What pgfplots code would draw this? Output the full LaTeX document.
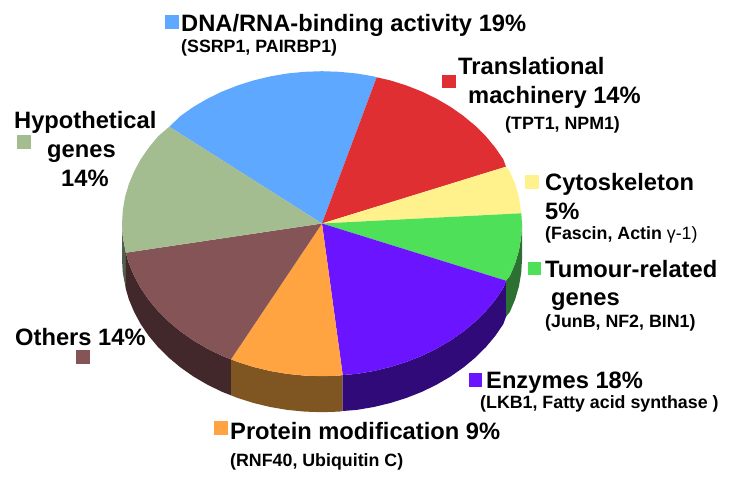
\documentclass[border=0pt]{standalone}
\usepackage{fontspec}
\setmainfont{Liberation Sans}
\usepackage{pgfplots}
\pgfplotsset{compat=1.18}
\definecolor{cblue}{HTML}{5FA8FF}
\definecolor{cred}{HTML}{E02F33}
\definecolor{cyel}{HTML}{FFF28C}
\definecolor{cgrn}{HTML}{4EE058}
\definecolor{cpur}{HTML}{6A14FF}
\definecolor{cora}{HTML}{FFA441}
\definecolor{cbrn}{HTML}{855457}
\definecolor{csag}{HTML}{A3BC90}
\definecolor{dgrn}{HTML}{2C7132}
\definecolor{dpur}{HTML}{300A78}
\definecolor{dora}{HTML}{7F5521}
\definecolor{dbrn}{HTML}{42272B}
\definecolor{dsag}{HTML}{50604A}
\newcommand{\lab}[3]{\node[anchor=base west,inner sep=0pt,font=\fontsize{23.7}{28}\selectfont\bfseries] at (axis cs:#1,#2) {#3};}
\newcommand{\sublab}[3]{\node[anchor=base west,inner sep=0pt,font=\fontsize{17.8}{20}\selectfont\bfseries] at (axis cs:#1,#2) {#3};}
\pgfplotsset{sq/.style={only marks,mark=square*,mark size=6.3pt,mark options={draw=#1,fill=#1,line width=0pt}}}
\begin{document}
\begin{tikzpicture}
\path[use as bounding box] (0,0) rectangle (729pt,493pt);
\begin{axis}[
  at={(0,0)},anchor=south west,
  width=729pt,height=493pt,scale only axis,
  xmin=0,xmax=729,ymin=0,ymax=493,y dir=reverse,
  axis lines=none,clip=false,
]
% side walls
\addplot[draw=none,fill=dsag] coordinates {(122,223.7)(122.8,237)(125.8,252.7)(125.8,288.7)(122.8,273)(122,259.7)} -- cycle;
\addplot[draw=none,fill=dbrn] coordinates {(125.8,252.7)(128.8,263.2)(134.1,275.9)(140.7,288.1)(148.8,300)(158.2,311.2)(168.8,321.7)(180.6,331.5)(193.4,340.5)(207.3,348.6)(222,355.8)(231,359.3)(231,395.3)(222,391.8)(207.3,384.6)(193.4,376.5)(180.6,367.5)(168.8,357.7)(158.2,347.2)(148.8,336)(140.7,324.1)(134.1,311.9)(128.8,299.2)(125.8,288.7)} -- cycle;
\addplot[draw=none,fill=dora] coordinates {(231,359.3)(237.5,361.9)(253.6,367)(270.2,371)(287.3,373.9)(304.6,375.6)(322,376.2)(339.4,375.6)(342.7,375)(342.7,411)(339.4,411.6)(322,412.2)(304.6,411.6)(287.3,409.9)(270.2,407)(253.6,403)(237.5,397.9)(231,395.3)} -- cycle;
\addplot[draw=none,fill=dpur] coordinates {(342.7,375)(356.7,373.9)(373.8,371)(390.4,367)(406.5,361.9)(422,355.8)(436.7,348.6)(450.6,340.5)(463.4,331.5)(475.2,321.7)(485.8,311.2)(495.2,300)(503.3,288.1)(506,280.7)(506,316.7)(503.3,324.1)(495.2,336)(485.8,347.2)(475.2,357.7)(463.4,367.5)(450.6,376.5)(436.7,384.6)(422,391.8)(406.5,397.9)(390.4,403)(373.8,407)(356.7,409.9)(342.7,411)} -- cycle;
\addplot[draw=none,fill=dgrn] coordinates {(506,280.7)(509.9,275.9)(515.2,263.2)(519,250.2)(521.2,237)(522,223.7)(522,259.7)(521.2,273)(519,286.2)(515.2,299.2)(509.9,311.9)(506,316.7)} -- cycle;
% top faces
\addplot[draw=none,fill=cblue] coordinates {(322,223.5)(169.3,126.7)(180.6,115.9)(193.4,106.9)(207.3,98.8)(222,91.6)(237.5,85.5)(253.6,80.4)(270.2,76.4)(287.3,73.5)(304.6,71.8)(322,71.2)(339.4,71.8)(356.7,73.5)(373.8,76.4)(376.7,77.3)} -- cycle;
\addplot[draw=none,fill=cred] coordinates {(322,223.5)(376.7,77.3)(390.4,80.4)(406.5,85.5)(422,91.6)(436.7,98.8)(450.6,106.9)(463.4,115.9)(475.2,125.7)(485.8,136.2)(495.2,147.5)(503.3,159.3)(506,166.7)} -- cycle;
\addplot[draw=none,fill=cyel] coordinates {(322,223.5)(506,166.7)(509.9,171.5)(515.2,184.2)(519,197.2)(521.3,213.3)} -- cycle;
\addplot[draw=none,fill=cgrn] coordinates {(322,223.5)(521.3,213.3)(522,223.7)(521.2,237)(519,250.2)(515.2,263.2)(509.9,275.9)(506,280.7)} -- cycle;
\addplot[draw=none,fill=cpur] coordinates {(322,223.5)(506,280.7)(503.3,288.1)(495.2,300)(485.8,311.2)(475.2,321.7)(463.4,331.5)(450.6,340.5)(436.7,348.6)(422,355.8)(406.5,361.9)(390.4,367)(373.8,371)(356.7,373.9)(342.7,375)} -- cycle;
\addplot[draw=none,fill=cora] coordinates {(322,223.5)(342.7,375)(339.4,375.6)(322,376.2)(304.6,375.6)(287.3,373.9)(270.2,371)(253.6,367)(237.5,361.9)(231,359.3)} -- cycle;
\addplot[draw=none,fill=cbrn] coordinates {(322,223.5)(231,359.3)(222,355.8)(207.3,348.6)(193.4,340.5)(180.6,331.5)(168.8,321.7)(158.2,311.2)(148.8,300)(140.7,288.1)(134.1,275.9)(128.8,263.2)(125.8,252.7)} -- cycle;
\addplot[draw=none,fill=csag] coordinates {(322,223.5)(125.8,252.7)(122.8,237)(122,223.7)(122.8,210.4)(125,197.2)(128.8,184.2)(134.1,171.5)(140.7,159.3)(148.8,147.5)(158.2,136.2)(169.3,126.7)} -- cycle;
% legend squares
\addplot[sq=cblue] coordinates {(172,22)};
\addplot[sq=cred] coordinates {(449,81.3)};
\addplot[sq=cyel] coordinates {(532,182)};
\addplot[sq=cgrn] coordinates {(534.5,268.5)};
\addplot[sq=cpur] coordinates {(475.5,380)};
\addplot[sq=cora] coordinates {(221,428)};
\addplot[sq=cbrn] coordinates {(83,357)};
\addplot[sq=csag] coordinates {(24,142)};
% labels
\lab{181}{31}{DNA/RNA-binding activity 19\%}
\sublab{181}{52}{(SSRP1, PAIRBP1)}
\lab{458}{74}{Translational}
\lab{468}{103}{machinery 14\%}
\sublab{505}{129}{(TPT1, NPM1)}
\lab{545}{190}{Cytoskeleton}
\lab{545}{219}{5\%}
\node[anchor=base west,inner sep=0pt,font=\fontsize{17.8}{20}\selectfont] at (axis cs:545,239) {\textbf{(Fascin, Actin }γ-1)};
\lab{545}{277}{Tumour-related}
\lab{551}{305}{genes}
\sublab{545}{327}{(JunB, NF2, BIN1)}
\lab{486}{388}{Enzymes 18\%}
\sublab{480}{408}{(LKB1, Fatty acid synthase )}
\lab{230}{439}{Protein modification 9\%}
\sublab{230}{466}{(RNF40, Ubiquitin C)}
\lab{14}{128}{Hypothetical}
\lab{47}{157}{genes}
\lab{61}{186}{14\%}
\lab{15}{345}{Others 14\%}
\end{axis}
\end{tikzpicture}
\end{document}
